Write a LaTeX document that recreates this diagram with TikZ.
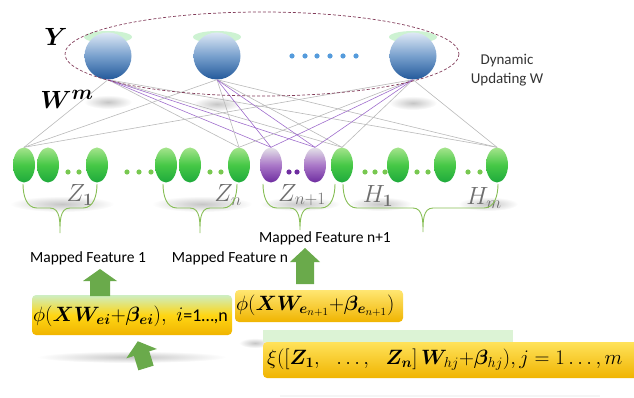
\documentclass[tikz,border=0pt]{standalone}
\usepackage{fontspec}
\newfontfamily\carlito{Carlito}
\usepackage{amsmath,bm}
\usetikzlibrary{shapes.geometric}
\definecolor{bltop}{RGB}{222,232,245}
\definecolor{blmid}{RGB}{120,160,205}
\definecolor{blbot}{RGB}{35,90,155}
\definecolor{gtop}{RGB}{165,228,140}
\definecolor{gmid}{RGB}{70,200,70}
\definecolor{gbot}{RGB}{30,170,60}
\definecolor{ptop}{RGB}{228,226,232}
\definecolor{pmid}{RGB}{170,120,200}
\definecolor{pbot}{RGB}{110,45,160}
\definecolor{lgray}{RGB}{185,185,185}
\definecolor{lpurp}{RGB}{160,110,205}
\definecolor{brc}{RGB}{135,190,85}
\definecolor{agreen}{RGB}{106,170,75}
\definecolor{dotb}{RGB}{85,155,220}
\definecolor{dotg}{RGB}{120,200,80}
\definecolor{zgray}{RGB}{110,110,110}
\definecolor{ellc}{RGB}{130,60,90}
\definecolor{capg}{RGB}{205,242,210}
\definecolor{boxg}{RGB}{205,238,195}
\definecolor{boxy}{RGB}{255,214,20}
\definecolor{boxo}{RGB}{240,180,0}
\newcommand\garrow[8]{% x, ybottom, length, rot, shaft, head, headlen
  \fill[agreen, shift={(#1,#2)}, rotate=#4]
    (-#5,0) -- (-#5,-#3+#7) -- (-#6,-#3+#7) -- (0,-#3) -- (#6,-#3+#7) -- (#5,-#3+#7) -- (#5,0) -- cycle;}
\newcommand\gbrace[5]{% x1, xm, x2, ytop, ytip
  \draw[bracel] (#1,#4) to[out=-90,in=180] ({#1+14},208) -- ({#2-10},208) to[out=0,in=90] (#2,#5)
    to[out=90,in=180] ({#2+10},208) -- ({#3-14},208) to[out=0,in=-90] (#3,#4);}
\tikzset{
  topnode/.style={circle, minimum size=47, inner sep=0, top color=bltop, bottom color=blbot, middle color=blmid},
  gnode/.style={ellipse, minimum width=22, minimum height=35, inner sep=0, top color=gtop, bottom color=gbot, middle color=gmid},
  pnode/.style={ellipse, minimum width=22, minimum height=35, inner sep=0, top color=ptop, bottom color=pbot, middle color=pmid},
  gline/.style={draw=lgray, line width=0.6},
  pline/.style={draw=lpurp, line width=0.6},
  bracel/.style={draw=brc, line width=0.9},
  ybox/.style={rounded corners=4, inner sep=0, top color=boxg, bottom color=boxo, middle color=boxy},
  mf/.style={font=\carlito\fontsize{15.5}{15.5}\selectfont},
  zlab/.style={text=zgray, font=\fontsize{25}{25}\selectfont},
  bigm/.style={font=\fontsize{22.5}{22.5}\selectfont},
}
\begin{document}
\begin{tikzpicture}[x=1pt,y=-1pt]
\useasboundingbox (0,0) rectangle (634,398);
% shadows
\foreach \sx/\sy/\ra/\rb in {108/102/24/7, 217/104/24/7, 413/103/24/7,
   62/204/52/8, 202/204/50/8, 300/204/40/7, 380/204/32/7, 488/204/30/7, 132/357/95/6, 255/343/16/5}
  \shade[inner color=gray!45, outer color=white] (\sx,\sy) ellipse ({\ra} and {\rb});
\fill[gray!8] (280,395) rectangle (600,397);
% caps
\foreach \x in {108,217,413} \fill[capg] (\x,37) ellipse (24 and 6);
% top layer
\node[topnode] (y1) at (108,56) {};
\node[topnode] (y2) at (217,56) {};
\node[topnode] (y3) at (413,56) {};
\foreach \x in {292,305,317,330,343,356} \fill[dotb] (\x,56) circle (2.6);
% bottom nodes
\node[gnode] (a1) at (24,165) {};
\node[gnode] (a2) at (48,165) {};
\node[gnode] (a3) at (97,165) {};
\node[gnode] (b1) at (166,165) {};
\node[gnode] (b2) at (190,165) {};
\node[gnode] (b3) at (239,165) {};
\node[pnode] (p1) at (271,165) {};
\node[pnode] (p2) at (315,165) {};
\node[gnode] (h1) at (342,165) {};
\node[gnode] (h2) at (398,165) {};
\node[gnode] (h3) at (445,165) {};
\node[gnode] (h4) at (497,165) {};
\foreach \x in {68,79,127,139,151,210,221,365,375,385,417,428,468,480} \fill[dotg] (\x,172) circle (2.6);
\foreach \x in {289,297} \fill[pbot] (\x,172) circle (2.6);
% connections
\foreach \t in {y1,y2,y3}{
  \foreach \e in {a1,b3,h1,h4} \draw[gline] (\t.south) -- (\e.north);
  \foreach \e in {p1,p2} \draw[pline] (\t.south) -- (\e.north);
}
% dashed ellipse
\draw[ellc, densely dashed, line width=0.7] (262,54) ellipse (197 and 42);
% labels
\node[font=\fontsize{30}{30}\selectfont] (ly) at (56,37) {$\bm{Y}$};
\node[font=\fontsize{28}{28}\selectfont] (lw) at (67,99) {$\bm{W^m}$};
\node[font=\carlito\fontsize{15}{19}\selectfont, align=center, text=black!80] (dyn) at (507,70) {Dynamic\\Updating W};
\node[zlab] (z1) at (80,195) {$Z_{\bm 1}$};
\node[zlab] (zn) at (228,195) {$Z_n$};
\node[zlab] (zn1) at (302,195) {$Z_{n+1}$};
\node[zlab] (hh1) at (378,196) {$H_{\bm 1}$};
\node[zlab] (hhm) at (484,198) {$H_m$};
% braces
\gbrace{23}{60}{97}{184}{233}
\gbrace{163}{200}{237}{184}{233}
\gbrace{263}{300}{335}{184}{230}
\gbrace{343}{423}{498}{184}{232}
% mapped feature texts
\node[mf] (m1) at (88,258) {Mapped Feature 1};
\node[mf] (mn) at (230,258) {Mapped Feature n};
\node[mf] (mn1) at (325,238) {Mapped Feature n+1};
% boxes
\fill[boxg!70] (263,330) rectangle (513,342);
\node[ybox, minimum width=200, minimum height=40] (bx1) at (132,315) {};
\node[bigm, anchor=west, inner sep=0, font=\fontsize{21}{21}\selectfont] (t1) at (33,316) {$\phi(\bm{XW}_{\bm{ei}}{+}\bm{\beta}_{\bm{ei}}),\ i${\carlito\fontsize{18}{18}\selectfont =1…,n}};
\node[ybox, minimum width=168, minimum height=32, top color=boxy!60!white] (bx2) at (319,306) {};
\node[bigm, anchor=west, inner sep=0] (t2) at (236,306) {$\phi(\bm{XW}_{\bm{e}_{n+1}}{+}\bm{\beta}_{\bm{e}_{n+1}})$};
\node[ybox, minimum width=380, minimum height=36, top color=boxy!70!white] (bx3) at (453,360) {};
\node[bigm, anchor=west, inner sep=0, font=\fontsize{21.5}{21.5}\selectfont] (t3) at (267,360) {$\xi([\bm{Z_1},\ \ \dots,\ \ \bm{Z_n}]\,\bm{W}_{hj}{+}\bm{\beta}_{hj}),j=1\dots,m$};
% arrows
\garrow{100}{296}{27}{0}{10}{17}{12}
\garrow{173}{296}{27}{-12}{10}{17}{12}
\garrow{305}{284}{36}{0}{9}{15}{14}
\garrow{428}{322}{39}{0}{10}{18}{19}
\garrow{146}{368}{28}{17}{8}{16}{13}
\node[font=\fontsize{18}{18}\selectfont] (lx) at (148,357) {$\bm{X}$};
\end{tikzpicture}
\end{document}
